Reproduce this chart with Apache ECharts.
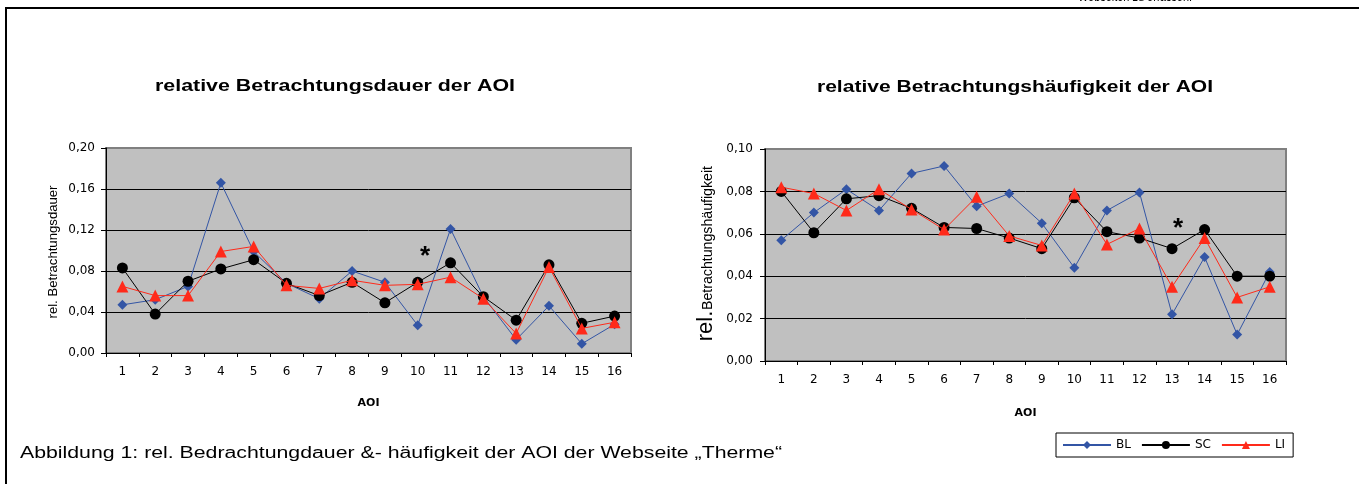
<!DOCTYPE html>
<html><head><meta charset="utf-8">
<script src="https://cdn.jsdelivr.net/npm/echarts@6/dist/echarts.min.js"></script>
<style>html,body{margin:0;padding:0;background:#fff;overflow:hidden}#c{width:1359px;height:484px}</style>
</head><body><div id="c"></div>
<script>
// ---- data ----
const categories = ['1','2','3','4','5','6','7','8','9','10','11','12','13','14','15','16'];
const seriesNames = ['BL','SC','LI'];
const durBL = [0.047,0.052,0.065,0.166,0.099,0.068,0.053,0.080,0.069,0.027,0.121,0.055,0.013,0.046,0.009,0.028];
const durSC = [0.083,0.038,0.070,0.082,0.091,0.068,0.056,0.069,0.049,0.069,0.088,0.055,0.032,0.086,0.029,0.036];
const durLI = [0.065,0.056,0.056,0.099,0.104,0.066,0.063,0.071,0.066,0.067,0.074,0.053,0.019,0.084,0.024,0.030];
const freqBL = [0.057,0.070,0.081,0.071,0.0885,0.092,0.073,0.079,0.065,0.044,0.071,0.0795,0.022,0.049,0.0125,0.042];
const freqSC = [0.080,0.0605,0.0765,0.078,0.072,0.063,0.0625,0.058,0.053,0.077,0.061,0.058,0.053,0.062,0.040,0.040];
const freqLI = [0.082,0.079,0.071,0.081,0.0715,0.062,0.0775,0.059,0.0545,0.079,0.055,0.0625,0.035,0.058,0.030,0.035];
const durTicks = {min:0, max:0.20, interval:0.04};
const freqTicks = {min:0, max:0.10, interval:0.02};
const titleLeft = 'relative Betrachtungsdauer der AOI';
const titleRight = 'relative Betrachtungshäufigkeit der AOI';
const caption = 'Abbildung 1: rel. Bedrachtungdauer &- häufigkeit der AOI der Webseite „Therme“';
const topText = 'Webseiten zu erfassen.';

// ---- styling ----
const mctx = document.createElement('canvas').getContext('2d');
function fit(text, font, target){ mctx.font = font; return target / mctx.measureText(text).width; }
const TF = 'DejaVu Sans';
const AF = 'Liberation Sans';
const colors = {BL:'#3355A5', SC:'#000000', LI:'#FF2A1A'};
const symbols = {BL:['diamond',10], SC:['circle',11], LI:['triangle',12]};
const fmt = v => v.toFixed(2).replace('.', ',');

function gridCfg(left, top, width, height){
  return {left, top, width, height, show:true, backgroundColor:'#C0C0C0', borderColor:'#808080', borderWidth:2, containLabel:false, outerBoundsMode:'none'};
}
function xAx(idx, gap){
  return {type:'category', gridIndex:idx, data:categories, boundaryGap:true,
    axisLine:{lineStyle:{color:'#000', width:1}}, axisTick:{show:true, length:4, lineStyle:{color:'#000'}},
    axisLabel:{color:'#000', fontFamily:TF, fontSize:12, margin:13},
    name:'AOI', nameLocation:'middle', nameGap:gap, nameTextStyle:{color:'#000', fontFamily:TF, fontWeight:'bold', fontSize:11}};
}
function yAx(idx, t, margin){
  return {type:'value', gridIndex:idx, min:t.min, max:t.max, interval:t.interval,
    axisLine:{show:true, lineStyle:{color:'#000', width:1}}, axisTick:{show:true, length:5, lineStyle:{color:'#000'}},
    axisLabel:{color:'#000', fontFamily:TF, fontSize:12, margin:margin, formatter:fmt},
    splitLine:{show:true, showMaxLine:false, lineStyle:{color:'#000', width:1}}};
}
function ser(name, data, idx){
  return {name, type:'line', data, xAxisIndex:idx, yAxisIndex:idx,
    symbol:symbols[name][0], symbolSize:symbols[name][1],
    lineStyle:{color:colors[name], width:1}, itemStyle:{color:colors[name]}, z: 2 + seriesNames.indexOf(name)};
}

const fTitle = 'bold 16px ' + AF;
const fCap = '16px ' + AF;
const fYL = '12px ' + AF;
const fTop = '15px ' + AF;

const option = {
  animation:false,
  backgroundColor:'#fff',
  grid:[gridCfg(106,148,525,205), gridCfg(765,149,521,212)],
  xAxis:[xAx(0,45), xAx(1,47)],
  yAxis:[yAx(0,durTicks,11), yAx(1,freqTicks,12)],
  legend:{show:true, data:seriesNames, left:1056, top:433, orient:'horizontal',
    borderColor:'#000', borderWidth:1, backgroundColor:'#fff', padding:[6,8,6,6],
    itemWidth:48, itemHeight:10, itemGap:10,
    textStyle:{color:'#000', fontFamily:TF, fontSize:12}},
  series:[
    ser('BL', durBL, 0), ser('SC', durSC, 0), ser('LI', durLI, 0),
    ser('BL', freqBL, 1), ser('SC', freqSC, 1), ser('LI', freqLI, 1)
  ],
  graphic:[
    {type:'rect', shape:{x:6, y:8, width:1420, height:520}, style:{fill:'none', stroke:'#000', lineWidth:2}, silent:true},
    {type:'text', x:1078, y:4, scaleX:fit(topText,fTop,114), style:{text:topText, font:fTop, fill:'#000', textAlign:'left', textVerticalAlign:'bottom'}},
    {type:'text', x:335, y:87, scaleX:fit(titleLeft,fTitle,360), style:{text:titleLeft, font:fTitle, fill:'#000', textAlign:'center', textVerticalAlign:'middle'}},
    {type:'text', x:1015, y:88, scaleX:fit(titleRight,fTitle,396), style:{text:titleRight, font:fTitle, fill:'#000', textAlign:'center', textVerticalAlign:'middle'}},
    {type:'text', x:20, y:454, scaleX:fit(caption,fCap,762), style:{text:caption, font:fCap, fill:'#000', textAlign:'left', textVerticalAlign:'middle'}},
    {type:'text', x:54, y:252, rotation:Math.PI/2, scaleX:fit('rel. Betrachtungsdauer',fYL,133), style:{text:'rel. Betrachtungsdauer', font:fYL, fill:'#000', textAlign:'center', textVerticalAlign:'middle'}},
    {type:'text', x:708, y:238, rotation:Math.PI/2, scaleX:fit('Betrachtungshäufigkeit','14px '+AF,144), style:{text:'Betrachtungshäufigkeit', font:'14px '+AF, fill:'#000', textAlign:'center', textVerticalAlign:'middle'}},
    {type:'text', x:706, y:326, rotation:Math.PI/2, style:{text:'rel.', font:'22px '+AF, fill:'#000', textAlign:'center', textVerticalAlign:'middle'}},
    {type:'text', x:425, y:257, style:{text:'*', font:'bold 26px '+AF, fill:'#000', textAlign:'center', textVerticalAlign:'middle'}},
    {type:'text', x:1178, y:229, style:{text:'*', font:'bold 26px '+AF, fill:'#000', textAlign:'center', textVerticalAlign:'middle'}}
  ]
};
const chart = echarts.init(document.getElementById('c'), null, {renderer:'canvas', width:1359, height:484});
chart.setOption(option);
</script>
</body></html>
